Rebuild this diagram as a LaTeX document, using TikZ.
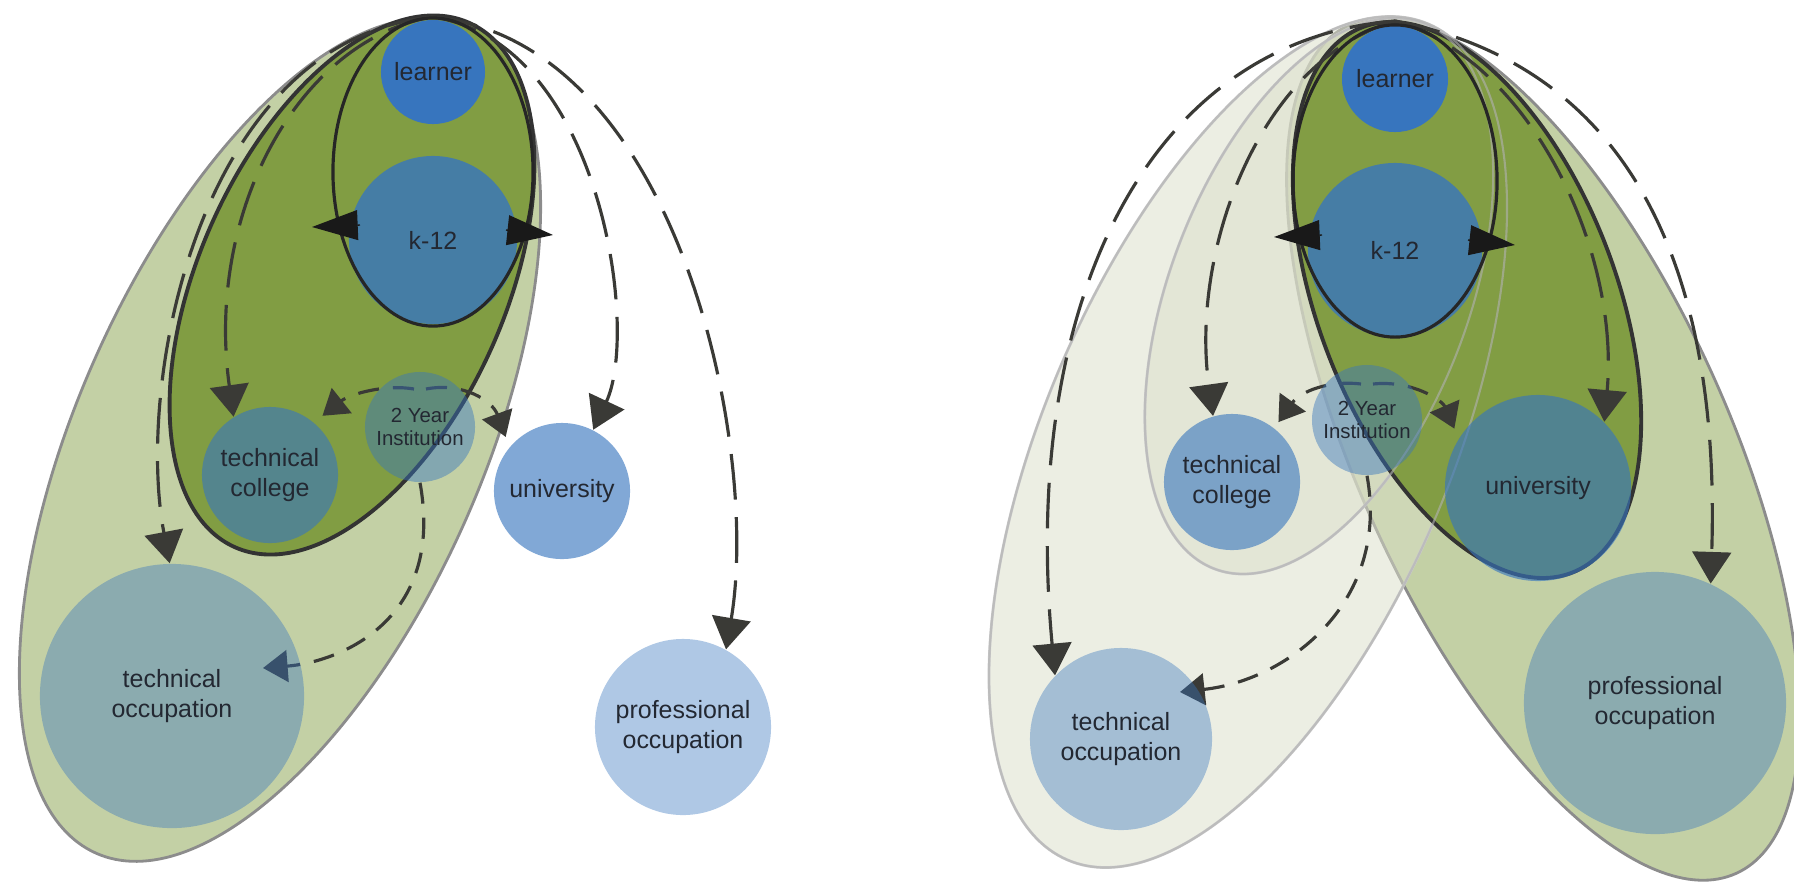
\documentclass[tikz,border=0pt]{standalone}
\usepackage{fontspec}
\setmainfont{Liberation Sans}
\usetikzlibrary{arrows.meta,calc}
\definecolor{nodeblue}{RGB}{55,117,190}
\definecolor{ellgreen}{RGB}{122,151,56}
\definecolor{hazecol}{RGB}{218,222,200}
\definecolor{linkgray}{RGB}{58,58,54}
\definecolor{labeltext}{RGB}{35,40,50}
\pgfdeclarelayer{bg}
\pgfdeclarelayer{links}
\pgfsetlayers{bg,links,main}
\newcommand{\lbl}{\fontsize{7.1}{8.6}\selectfont}
\newcommand{\lblsm}{\fontsize{5.8}{6.6}\selectfont}
\tikzset{
  stage/.style={circle, fill=nodeblue, inner sep=0pt, align=center, text=labeltext,
                text opacity=1, font=\lbl},
  zone/.style={fill=ellgreen, fill opacity=0.45, draw=black!45, line width=0.8pt},
  core/.style={fill=ellgreen, fill opacity=0.9, draw=black!80, line width=1.1pt},
  haze/.style={fill=hazecol, fill opacity=0.5, draw=black!20, line width=0.8pt},
  route/.style={draw=linkgray, line width=0.9pt, dash pattern=on 13pt off 5pt,
                -{Triangle[length=9pt,width=11pt]}},
  hop/.style={route, dash pattern=on 6pt off 4pt, -{Triangle[length=7pt,width=9pt]}},
  loopline/.style={draw=black!85, line width=0.9pt},
  looptip/.style={black!90, line width=0.4pt, -{Triangle[length=13pt,width=8.5pt]}},
}

\begin{document}
\begin{tikzpicture}[x=0.01cm, y=-0.01cm]
  \useasboundingbox (0,0) rectangle (1794,884);

  \begin{pgfonlayer}{bg}
    \draw[zone, rotate around={66:(280,440)}] (280,440) ellipse [x radius=4.52cm, y radius=2.02cm];
    \draw[core, rotate around={65.9:(352,285)}] (352,285) ellipse [x radius=2.87cm, y radius=1.53cm];

    \draw[zone, rotate around={-65.5:(1543,449)}] (1543,449) ellipse [x radius=4.66cm, y radius=1.85cm];
    \draw[haze, rotate around={66.6:(1248,442)}] (1248,442) ellipse [x radius=4.55cm, y radius=2.02cm];
    \draw[haze, rotate around={69:(1319,296)}] (1319,296) ellipse [x radius=2.92cm, y radius=1.49cm];
    \draw[core, rotate around={-69:(1467,300)}] (1467,300) ellipse [x radius=2.92cm, y radius=1.49cm];
    \draw[black!30, draw opacity=0.6, line width=0.6pt, rotate around={66.6:(1248,442)}] (1248,442) ellipse [x radius=4.55cm, y radius=2.02cm];
    \draw[black!30, draw opacity=0.6, line width=0.6pt, rotate around={69:(1319,296)}] (1319,296) ellipse [x radius=2.92cm, y radius=1.49cm];
  \end{pgfonlayer}

  \node[stage, minimum size=1.04cm] (lrnL) at (433,72) {learner};
  \node[stage, minimum size=1.68cm, fill opacity=0.8] (k12L) at (433,240) {k-12};
  \node[stage, minimum size=1.1cm, fill opacity=0.45, font=\lblsm] (twoL) at (420,427) {2 Year\\Institution};
  \node[stage, minimum size=1.36cm, fill opacity=0.6] (tcL) at (270,475) {technical\\college};
  \node[stage, minimum size=1.36cm, fill opacity=0.63] (uniL) at (562,491) {university};
  \node[stage, minimum size=2.64cm, fill opacity=0.4] (tocL) at (172,696) {technical\\occupation};
  \node[stage, minimum size=1.76cm, fill opacity=0.4] (pocL) at (683,727) {professional\\occupation};

  \node[stage, minimum size=1.06cm] (lrnR) at (1395,79) {learner};
  \node[stage, minimum size=1.74cm, fill opacity=0.8] (k12R) at (1395,250) {k-12};
  \node[stage, minimum size=1.1cm, fill opacity=0.45, font=\lblsm] (twoR) at (1367,420) {2 Year\\Institution};
  \node[stage, minimum size=1.36cm, fill opacity=0.6] (tcR) at (1232,482) {technical\\college};
  \node[stage, minimum size=1.86cm, fill opacity=0.63] (uniR) at (1538,488) {university};
  \node[stage, minimum size=1.82cm, fill opacity=0.4] (tocR) at (1121,739) {technical\\occupation};
  \node[stage, minimum size=2.62cm, fill opacity=0.4] (pocR) at (1655,703) {professional\\occupation};

  \coordinate (topL) at (432,17);
  \coordinate (topR) at (1395,21);

  \begin{pgfonlayer}{links}
    \draw[route] (topL) .. controls (300,40) and (205,210) .. (tcL.122);
    \draw[route] (topL) .. controls (200,40) and (135,380) .. (tocL.91);
    \draw[route] (topL) .. controls (600,40) and (640,330) .. (uniL.63);
    \draw[route] (topL) .. controls (680,40) and (760,450) .. (pocL.61);
    \draw[hop, shorten >=3pt] ($(twoL)+(-6,-38)$) .. controls (385,384) and (350,394) .. (tcL.50);
    \draw[hop, shorten >=3pt] ($(twoL)+(6,-38)$) .. controls (462,382) and (492,400) .. (uniL.140);
    \draw[hop] (twoL.south) .. controls (445,620) and (340,662) .. ($(tocL)+(91,-28)$);

    \draw[route] (topR) .. controls (1260,60) and (1190,250) .. (tcR.106);
    \draw[route] (topR) .. controls (1150,40) and (1020,300) .. (tocR.136);
    \draw[route] (topR) .. controls (1530,60) and (1620,250) .. (uniR.45);
    \draw[route] (topR) .. controls (1650,70) and (1720,300) .. (pocR.65);
    \draw[hop, shorten >=2pt] ($(twoR)+(-6,-36)$) .. controls (1328,380) and (1300,392) .. (tcR.52);
    \draw[hop, shorten >=3pt] ($(twoR)+(6,-36)$) .. controls (1412,380) and (1442,400) .. (uniR.148);
    \draw[hop] (twoR.south) .. controls (1390,600) and (1290,680) .. ($(tocR)+(59,-47)$);
  \end{pgfonlayer}

  \draw[loopline] ($(k12L)+(0,-68)$) ellipse [x radius=1cm, y radius=1.54cm];
  \draw[looptip] ($(k12L)+(-73,-15)$) -- ($(k12L)+(-121,-13)$);
  \draw[looptip] ($(k12L)+(73,-10)$) -- ($(k12L)+(120,-5)$);

  \draw[loopline] ($(k12R)+(0,-69)$) ellipse [x radius=1.02cm, y radius=1.56cm];
  \draw[looptip] ($(k12R)+(-73,-15)$) -- ($(k12R)+(-121,-13)$);
  \draw[looptip] ($(k12R)+(73,-10)$) -- ($(k12R)+(120,-5)$);
\end{tikzpicture}
\end{document}
